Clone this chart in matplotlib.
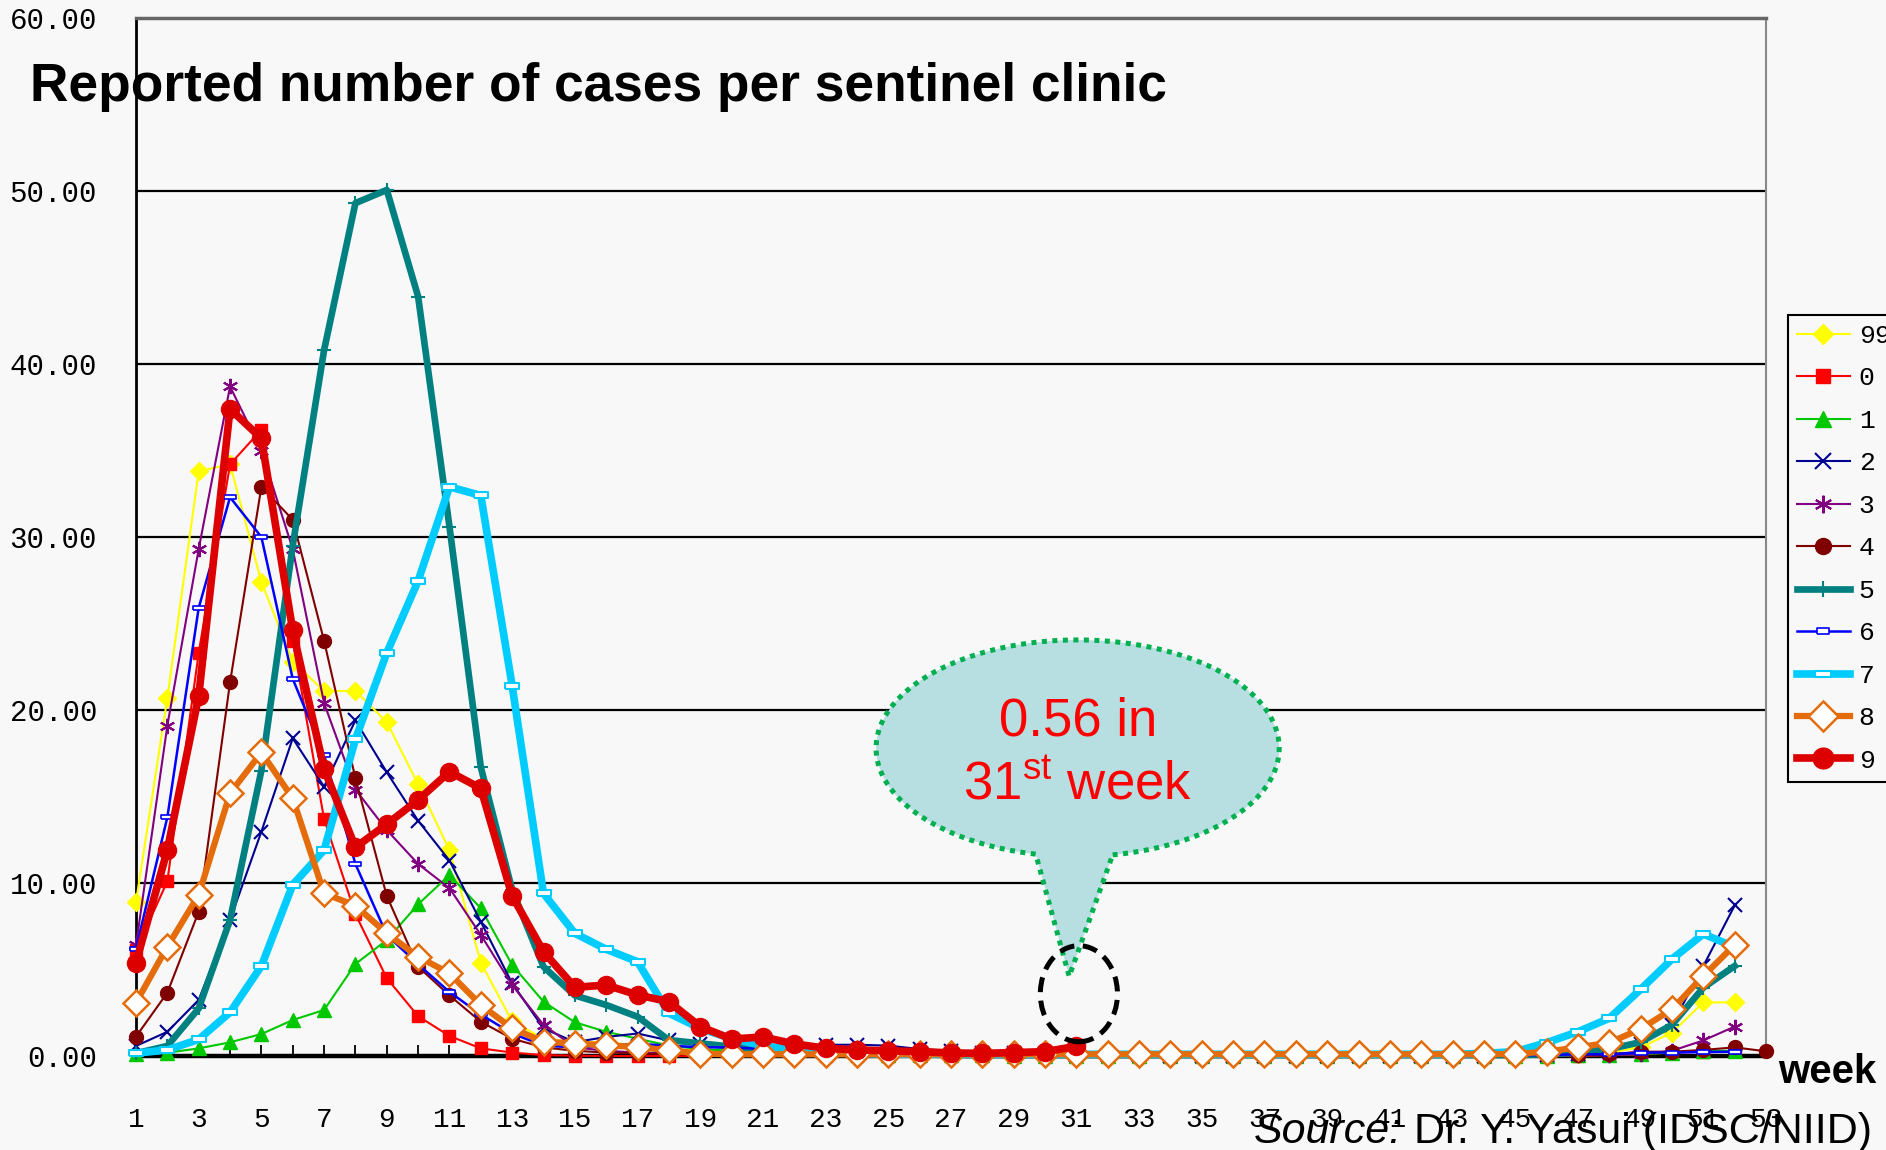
import matplotlib
matplotlib.use("Agg")
import matplotlib.pyplot as plt
import numpy as np
from matplotlib.path import Path
from matplotlib.patches import PathPatch, Ellipse
from matplotlib.font_manager import FontProperties

plt.rcParams['font.family'] = ['Liberation Sans', 'DejaVu Sans']
plt.rcParams['mathtext.fontset'] = 'custom'
plt.rcParams['mathtext.rm'] = 'Liberation Sans'
plt.rcParams['mathtext.it'] = 'Liberation Sans:italic'

# ---------------- data ----------------
series_names = ["99", "0", "1", "2", "3", "4", "5", "6", "7", "8", "9"]

s99 = [8.9, 20.7, 33.8, 34.2, 27.4, 22.8, 21.1, 21.1, 19.3, 15.7, 11.9, 5.4,
       2.0, 1.0, 0.8, 0.8, 0.6, 0.4, 0.3, 0.2, 0.2, 0.1, 0.1, 0.1,
       0.1, 0.05, 0.05, 0.05, 0.0, 0.0, 0.0, 0.0, 0.0, 0.0, 0.0, 0.0,
       0.0, 0.0, 0.0, 0.0, 0.0, 0.0, 0.0, 0.0, 0.05, 0.1, 0.1, 0.2,
       0.5, 1.35, 3.1, 3.1]
s0 = [6.1, 10.1, 23.3, 34.2, 36.2, 24.0, 13.7, 8.2, 4.5, 2.3, 1.16, 0.44,
      0.2, 0.05, 0.02, 0.0, 0.0, 0.0, 0.0, 0.0, 0.0, 0.0, 0.0, 0.0,
      0.0, 0.0, 0.0, 0.0, 0.0, 0.0, 0.0, 0.0, 0.0, 0.0, 0.0, 0.0,
      0.0, 0.0, 0.0, 0.0, 0.0, 0.0, 0.0, 0.0, 0.0, 0.0, 0.0, 0.05,
      0.1, 0.2, 0.25, 0.3]
s1 = [0.1, 0.19, 0.44, 0.79, 1.27, 2.08, 2.66, 5.32, 6.7, 8.77, 10.46, 8.54,
      5.26, 3.14, 1.95, 1.4, 1.0, 0.6, 0.4, 0.3, 0.2, 0.15, 0.1, 0.1,
      0.05, 0.05, 0.05, 0.05, 0.0, 0.0, 0.0, 0.0, 0.0, 0.0, 0.0, 0.0,
      0.0, 0.0, 0.0, 0.0, 0.0, 0.0, 0.0, 0.0, 0.0, 0.0, 0.05, 0.05,
      0.1, 0.2, 0.3, 0.3]
s2 = [0.58, 1.4, 3.24, 7.86, 12.97, 18.36, 15.57, 19.4, 16.4, 13.6, 11.3, 7.76,
      4.2, 1.6, 0.8, 1.1, 1.3, 0.9, 0.7, 0.6, 0.6, 0.6, 0.65, 0.65,
      0.6, 0.4, 0.3, 0.2, 0.15, 0.1, 0.05, 0.05, 0.05, 0.0, 0.0, 0.0,
      0.0, 0.0, 0.0, 0.0, 0.0, 0.0, 0.0, 0.0, 0.05, 0.05, 0.1, 0.3,
      0.7, 1.8, 5.2, 8.7]
s3 = [6.4, 19.1, 29.3, 38.7, 35.0, 29.3, 20.4, 15.4, 13.06, 11.1, 9.7, 7.0,
      4.1, 1.8, 0.5, 0.3, 0.2, 0.15, 0.1, 0.1, 0.05, 0.05, 0.05, 0.05,
      0.0, 0.0, 0.0, 0.0, 0.0, 0.0, 0.0, 0.0, 0.0, 0.0, 0.0, 0.0,
      0.0, 0.0, 0.0, 0.0, 0.0, 0.0, 0.0, 0.0, 0.0, 0.0, 0.05, 0.05,
      0.1, 0.3, 0.9, 1.7]
s4 = [1.12, 3.66, 8.34, 21.6, 32.9, 31.0, 24.0, 16.05, 9.25, 5.16, 3.5, 1.98,
      1.0, 0.5, 0.3, 0.2, 0.15, 0.1, 0.1, 0.05, 0.05, 0.05, 0.05, 0.05,
      0.0, 0.0, 0.0, 0.0, 0.0, 0.0, 0.0, 0.0, 0.0, 0.0, 0.0, 0.0,
      0.0, 0.0, 0.0, 0.0, 0.0, 0.0, 0.0, 0.0, 0.0, 0.05, 0.05, 0.1,
      0.25, 0.25, 0.35, 0.5, 0.27]
s5 = [0.16, 0.58, 2.75, 7.86, 16.5, 29.5, 40.8, 49.3, 50.06, 43.9, 30.6, 16.7,
      9.6, 5.16, 3.5, 2.95, 2.27, 0.92, 0.73, 0.54, 0.4, 0.3, 0.2, 0.15,
      0.1, 0.1, 0.05, 0.05, 0.05, 0.05, 0.05, 0.05, 0.05, 0.05, 0.05, 0.05,
      0.05, 0.05, 0.05, 0.05, 0.05, 0.05, 0.05, 0.05, 0.05, 0.1, 0.2, 0.4,
      0.8, 1.8, 3.95, 5.2]
s6 = [6.2, 13.8, 25.9, 32.3, 30.0, 21.8, 17.4, 11.1, 7.0, 5.3, 3.7, 2.4,
      1.3, 0.6, 0.5, 0.6, 0.7, 0.6, 0.5, 0.5, 0.4, 0.3, 0.2, 0.15,
      0.1, 0.1, 0.05, 0.05, 0.05, 0.05, 0.0, 0.0, 0.0, 0.0, 0.0, 0.0,
      0.0, 0.0, 0.0, 0.0, 0.0, 0.0, 0.0, 0.0, 0.05, 0.05, 0.1, 0.1,
      0.2, 0.2, 0.23, 0.25]
s7 = [0.16, 0.35, 0.96, 2.52, 5.2, 9.9, 11.9, 18.3, 23.3, 27.46, 32.9, 32.4,
      21.4, 9.4, 7.09, 6.17, 5.45, 2.47, 1.6, 1.0, 0.6, 0.35, 0.2, 0.15,
      0.1, 0.1, 0.1, 0.1, 0.1, 0.1, 0.1, 0.1, 0.1, 0.1, 0.1, 0.1,
      0.1, 0.1, 0.1, 0.1, 0.1, 0.1, 0.1, 0.15, 0.25, 0.77, 1.4, 2.18,
      3.85, 5.6, 7.05, 6.3]
s8 = [3.08, 6.32, 9.31, 15.18, 17.55, 14.9, 9.4, 8.69, 7.09, 5.74, 4.78, 2.95,
      1.6, 0.83, 0.72, 0.62, 0.52, 0.33, 0.14, 0.1, 0.1, 0.1, 0.1, 0.1,
      0.1, 0.1, 0.1, 0.1, 0.1, 0.1, 0.1, 0.1, 0.1, 0.1, 0.1, 0.1,
      0.1, 0.1, 0.1, 0.1, 0.1, 0.1, 0.1, 0.1, 0.12, 0.25, 0.5, 0.77,
      1.56, 2.7, 4.62, 6.42]
s9 = [5.4, 11.9, 20.8, 37.4, 35.7, 24.6, 16.6, 12.06, 13.4, 14.8, 16.43, 15.47,
      9.25, 6.03, 3.97, 4.1, 3.53, 3.14, 1.7, 0.98, 1.1, 0.7, 0.45, 0.35,
      0.3, 0.25, 0.18, 0.15, 0.2, 0.25, 0.56]

series_values = [s99, s0, s1, s2, s3, s4, s5, s6, s7, s8, s9]

y_ticks = [0, 10, 20, 30, 40, 50, 60]
x_weeks = list(range(1, 54))

callout_week = 31
callout_value = 0.56

# ---------------- styles ----------------
dash_marker = [(-1, -0.4), (1, -0.4), (1, 0.4), (-1, 0.4), (-1, -0.4)]
styles = {
    "99": dict(color="#FFFF00", lw=1.5, marker="D", ms=9, mfc="#FFFF00", mec="#FFFF00"),
    "0": dict(color="#FF0000", lw=1.5, marker="s", ms=9, mfc="#FF0000", mec="#FF0000"),
    "1": dict(color="#00C800", lw=1.5, marker="^", ms=10, mfc="#00C800", mec="#00C800"),
    "2": dict(color="#000090", lw=1.5, marker="x", ms=10, mew=1.5, mec="#000090"),
    "3": dict(color="#800080", lw=1.5, marker=(6, 2, 0), ms=11, mew=1.5, mec="#800080"),
    "4": dict(color="#800000", lw=1.5, marker="o", ms=10, mfc="#800000", mec="#800000"),
    "5": dict(color="#008080", lw=4.8, marker="+", ms=10, mew=1.5, mec="#008080"),
    "6": dict(color="#0000FF", lw=1.8, marker=dash_marker, ms=8, mfc="white", mec="#0000FF", mew=1.2),
    "7": dict(color="#00CCFF", lw=5.5, marker=dash_marker, ms=10, mfc="white", mec="#00CCFF", mew=1.5),
    "8": dict(color="#E46C0A", lw=4.5, marker="D", ms=13, mfc="white", mec="#E46C0A", mew=1.8),
    "9": dict(color="#DD0000", lw=5.5, marker="o", ms=13, mfc="#DD0000", mec="#DD0000"),
}

W, H = 1886, 1150
fig = plt.figure(figsize=(W / 100, H / 100), dpi=100, facecolor="#F8F8F8")
ax = fig.add_axes([136 / W, 1 - 1056 / H, 1630 / W, 1038 / H])
ax.set_facecolor("#F8F8F8")

handles = []
for i, (name, vals) in enumerate(zip(series_names, series_values)):
    x = x_weeks[:len(vals)]
    ln, = ax.plot(x, vals, label=name, clip_on=False, zorder=3 + i * 0.1,
                  solid_joinstyle="round", **styles[name])
    handles.append(ln)

ax.set_xlim(1, 53)
ax.set_ylim(0, 60)

ax.set_yticks(y_ticks)
ax.set_yticklabels([f"{v:.2f}" for v in y_ticks])
ax.set_xticks(x_weeks)
ax.set_xticklabels([str(w) if w % 2 == 1 else "" for w in x_weeks])
ax.tick_params(axis="x", direction="in", length=8, width=1.3, pad=37, labelsize=20)
ax.tick_params(axis="y", direction="in", length=8, width=1.3, pad=28, labelsize=21)
for lab in ax.get_xticklabels() + ax.get_yticklabels():
    lab.set_fontfamily("Liberation Mono")

ax.grid(axis="y", color="black", lw=1.6)
ax.grid(axis="x", visible=False)
ax.set_axisbelow(True)
ax.spines["left"].set_color("black")
ax.spines["left"].set_linewidth(2)
ax.spines["bottom"].set_color("black")
ax.spines["bottom"].set_linewidth(3.2)
ax.spines["right"].set_color("#888888")
ax.spines["right"].set_linewidth(1.5)
ax.spines["top"].set_color("#666666")
ax.spines["top"].set_linewidth(2.5)

# ---------------- callout ----------------
cx, cy, a, b = 31.04, 17.79, 6.43, 6.26
th = np.radians(np.linspace(-80, 258, 200))
pts = [(cx + a * np.cos(t), cy + b * np.sin(t)) for t in th]
pts.append((30.77, 4.6))
pts.append(pts[0])
codes = [Path.MOVETO] + [Path.LINETO] * (len(pts) - 2) + [Path.CLOSEPOLY]
bubble = PathPatch(Path(pts, codes), facecolor="#B7DFE2", edgecolor="#00B050",
                   lw=3.6, linestyle=(0, (1, 1.1)), zorder=2, clip_on=False)
bubble.set_capstyle("butt")
ax.add_patch(bubble)
ax.text(cx, 18.5, f"{callout_value:.2f} in", ha="center", va="baseline",
        color="#FF0000", fontsize=38, zorder=4.5)
ax.text(cx, 14.8, r"$\mathrm{%d^{st}\ week}$" % callout_week, ha="center", va="baseline",
        color="#FF0000", fontsize=38, zorder=4.5)
circ = Ellipse((31.08, 3.6), 2.46, 5.55, fill=False, edgecolor="black", lw=3.6,
               linestyle=(0, (3, 1.7)), zorder=10, clip_on=False)
ax.add_patch(circ)

# ---------------- texts ----------------
fig.text(30 / W, 1 - 101 / H, "Reported number of cases per sentinel clinic",
         fontsize=38.3, fontweight="bold", va="baseline", ha="left", zorder=10)
fig.text(1778 / W, 1 - 1083 / H, "week", fontsize=29, fontweight="bold",
         va="baseline", ha="left")
t1 = fig.text(1254 / W, 7.3 / H, "Source:", fontsize=31, style="italic",
              va="baseline", ha="left")
fig.canvas.draw()
bb = t1.get_window_extent()
fig.text(bb.x1 / W, 7.3 / H, " Dr. Y. Yasui (IDSC/NIID)", fontsize=31,
         va="baseline", ha="left")

# ---------------- legend ----------------
leg = fig.legend(handles, series_names, loc="upper left",
                 bbox_to_anchor=(1788 / W, 1 - 315 / H),
                 prop=FontProperties(family="Liberation Mono", size=19),
                 frameon=True, fancybox=False, edgecolor="black", facecolor="#F8F8F8",
                 borderaxespad=0, handlelength=2.0, labelspacing=0.7,
                 borderpad=0.34, handletextpad=0.34, numpoints=1, framealpha=1,
                 markerscale=1.15)
leg.get_frame().set_linewidth(1.5)

fig.savefig("out.png", dpi=100, facecolor=fig.get_facecolor())
